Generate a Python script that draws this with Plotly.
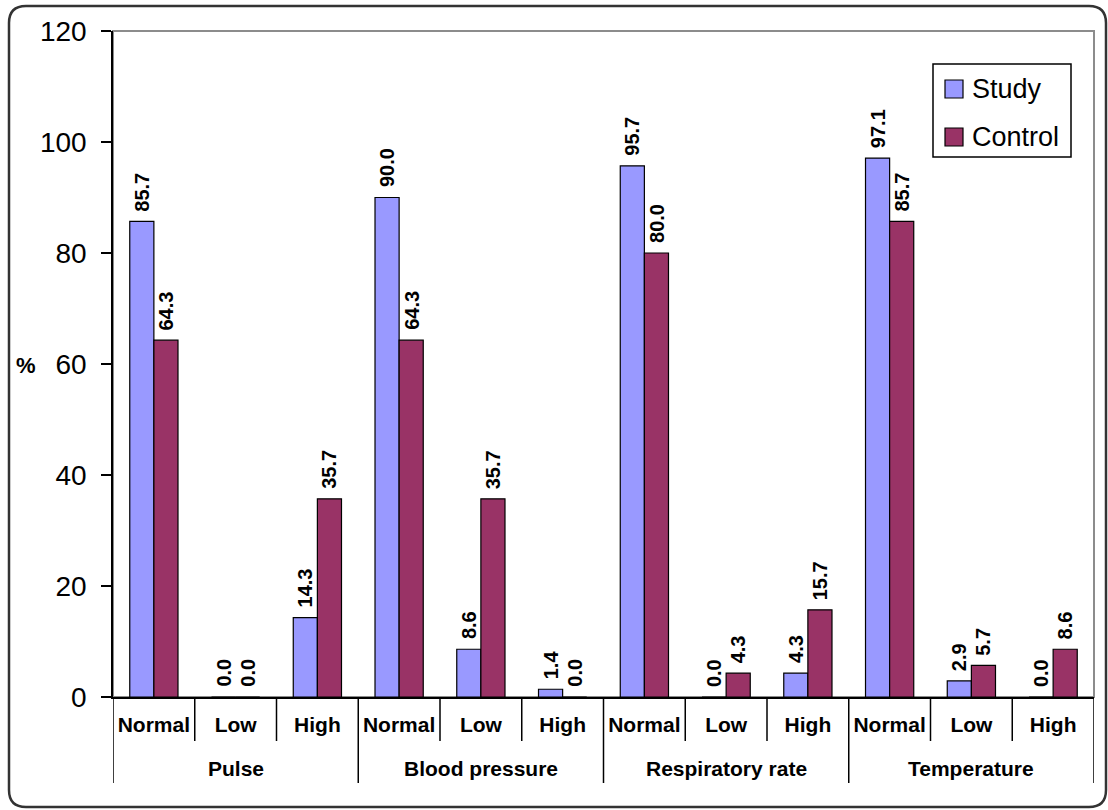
import plotly.graph_objects as go

# Vital-sign categories and the share (%) of each group in each range
groups = ["Pulse", "Blood pressure", "Respiratory rate", "Temperature"]
levels = ["Normal", "Low", "High"]
study = [85.7, 0.0, 14.3, 90.0, 8.6, 1.4, 95.7, 0.0, 4.3, 97.1, 2.9, 0.0]
control = [64.3, 0.0, 35.7, 64.3, 35.7, 0.0, 80.0, 4.3, 15.7, 85.7, 5.7, 8.6]
y_ticks = [0, 20, 40, 60, 80, 100, 120]

n_lv = len(levels)
x_labels = [lv for _ in groups for lv in levels]
x_idx = list(range(len(x_labels)))

W, H = 1108, 810
L, R, T, B = 113, 1094, 31, 697   # plot area edges in pixels
BARGAP = 0.41
half_bar = (1 - BARGAP) / 4       # offset of each bar centre from its category


def px(x):
    return (x - L) / (R - L)


def py(y):
    return (B - y) / (B - T)


FONT = "Liberation Sans, Arial, sans-serif"

fig = go.Figure()
annotations = []
series = [("Study", study, "#9999FF", -half_bar), ("Control", control, "#993366", half_bar)]
for name, vals, color, off in series:
    fig.add_trace(go.Bar(
        x=x_idx, y=vals, name=name,
        marker=dict(color=color, line=dict(color="#000000", width=1.2)),
        showlegend=False,
    ))
    # value labels, rotated, just above each bar
    for i, v in zip(x_idx, vals):
        annotations.append(dict(xref="x", yref="y", x=i + off, y=v, text=f"{v:.1f}",
                                textangle=-90, showarrow=False, xanchor="center",
                                yanchor="bottom", yshift=8,
                                font=dict(family=FONT, size=20, color="#000000",
                                          weight="bold")))

shapes = []
# plot-area frame (grey top/right), axes drawn over it
shapes.append(dict(type="rect", xref="paper", yref="paper", x0=0, y0=0, x1=1, y1=1,
                   line=dict(color="#8c8c8c", width=2), layer="below"))

# category separators below the axis: short within a group, long between groups
for b in range(len(x_labels) + 1):
    long_line = b % n_lv == 0
    shapes.append(dict(type="line", xref="x", yref="paper", x0=b - 0.5, x1=b - 0.5,
                       y0=0, y1=py(783 if long_line else 741),
                       line=dict(color="#000000", width=1.5)))

# rounded outer chart border
x0, x1, y0, y1, r = 9, 1106, 6, 807, 17
path = (f"M {px(x0+r)} {py(y0)} L {px(x1-r)} {py(y0)} Q {px(x1)} {py(y0)} {px(x1)} {py(y0+r)} "
        f"L {px(x1)} {py(y1-r)} Q {px(x1)} {py(y1)} {px(x1-r)} {py(y1)} "
        f"L {px(x0+r)} {py(y1)} Q {px(x0)} {py(y1)} {px(x0)} {py(y1-r)} "
        f"L {px(x0)} {py(y0+r)} Q {px(x0)} {py(y0)} {px(x0+r)} {py(y0)} Z")
shapes.append(dict(type="path", xref="paper", yref="paper", path=path,
                   line=dict(color="#333333", width=2.5)))

# legend box and swatches
shapes.append(dict(type="rect", xref="paper", yref="paper",
                   x0=px(933), x1=px(1071), y0=py(64), y1=py(157),
                   line=dict(color="#000000", width=1.5), fillcolor="#ffffff"))
for (top, label, color) in [(80, "Study", "#9999FF"), (128, "Control", "#993366")]:
    shapes.append(dict(type="rect", xref="paper", yref="paper",
                       x0=px(945), x1=px(963), y0=py(top), y1=py(top + 18),
                       line=dict(color="#000000", width=1.2), fillcolor=color))
    annotations.append(dict(xref="paper", yref="paper", x=px(970), y=py(top + 9),
                            text=label, showarrow=False, xanchor="left", yanchor="middle",
                            font=dict(family=FONT, size=27, color="#000000")))

# group names under the sub-category labels
for gi, g in enumerate(groups):
    annotations.append(dict(xref="x", yref="paper", x=gi * n_lv + (n_lv - 1) / 2, y=py(768),
                            text=g, showarrow=False, xanchor="center", yanchor="middle",
                            font=dict(family=FONT, size=21, color="#000000", weight="bold")))

annotations.append(dict(xref="paper", yref="paper", x=px(26), y=py(365), text="%",
                        showarrow=False, xanchor="center", yanchor="middle",
                        font=dict(family=FONT, size=22, color="#000000", weight="bold")))

fig.update_layout(
    width=W, height=H,
    margin=dict(l=L, r=W - R, t=T, b=H - B, autoexpand=False),
    paper_bgcolor="#ffffff", plot_bgcolor="#ffffff",
    barmode="group", bargap=BARGAP, bargroupgap=0,
    shapes=shapes, annotations=annotations,
    xaxis=dict(
        range=[-0.5, len(x_labels) - 0.5], tickvals=x_idx, ticktext=x_labels,
        showline=True, linecolor="#000000", linewidth=1.5, ticks="", ticklabelstandoff=8,
        tickfont=dict(family=FONT, size=21, color="#000000", weight="bold"),
        tickangle=0, automargin=False, showgrid=False, zeroline=False,
    ),
    yaxis=dict(
        range=[0, 120], tickvals=y_ticks, showline=True, linecolor="#000000", linewidth=1.5,
        ticks="outside", ticklen=10, tickcolor="#000000", tickwidth=1.5,
        ticklabelstandoff=9,
        tickfont=dict(family=FONT, size=28, color="#000000"), showgrid=False,
        zeroline=False, automargin=False,
    ),
)

fig.write_html("out.html")
